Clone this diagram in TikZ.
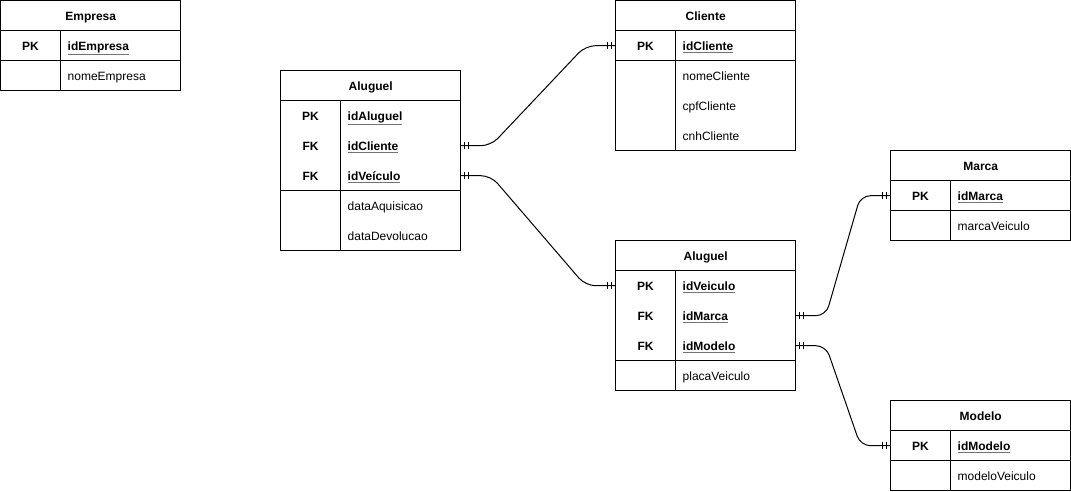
\documentclass[tikz,border=0pt]{standalone}
\usepackage{fontspec}
\setmainfont{Liberation Sans}
% one table row: invisible row box, key label in the left column, field name in the right column
\newcommand\erow[5]{%
  \node[row] (#1) at (#2,#3) {};
  \node[key] at ([xshift=30pt]#1.west) {#4};
  \node[fld] at ([xshift=67pt]#1.west) {#5};}
% table header row
\newcommand\ehead[4]{%
  \node[row] (#1) at (#2,#3) {};
  \node[hdr] at (#1.center) {#4};}
% key field name: bold with a grey underline
\newcommand\keyname[1]{\textbf{\makebox[0pt][l]{\color{black!55}\underline{\phantom{#1}}}#1}}
% "exactly one" marker: two bars near a connector end
\newcommand\mandone[2]{%
  \draw[bar] ([xshift=#2*4pt]#1) ++(0,-3.5) -- ++(0,7);
  \draw[bar] ([xshift=#2*8pt]#1) ++(0,-3.5) -- ++(0,7);}
\begin{document}
\begin{tikzpicture}[x=1pt,y=-1pt,
  tbl/.style={draw, line width=1pt},
  txt/.style={font=\fontsize{12}{14}\selectfont, inner sep=0, text height=8.8pt, text depth=2.4pt, yshift=-1.5pt},
  hdr/.style={txt, font=\fontsize{12}{14}\selectfont\bfseries},
  key/.style={txt, font=\fontsize{12}{14}\selectfont\bfseries},
  fld/.style={txt, anchor=west},
  row/.style={minimum width=180pt, minimum height=30pt, inner sep=0, anchor=north west},
  rel/.style={line width=1pt, rounded corners=10pt},
  bar/.style={line width=1pt}]
\useasboundingbox (-0.5,-0.5) rectangle (1070.5,491.5);

% Empresa
\draw[tbl] (0,0) rectangle (180,90) (0,30) -- (180,30) (0,60) -- (180,60) (60,30) -- (60,90);
\ehead{em-h}{0}{0}{Empresa}
\erow{em-id}{0}{30}{PK}{\keyname{idEmpresa}}
\erow{em-nome}{0}{60}{}{nomeEmpresa}

% Aluguel (left)
\draw[tbl] (280,70) rectangle (460,250) (280,100) -- (460,100) (280,190) -- (460,190) (340,100) -- (340,250);
\ehead{a1-h}{280}{70}{Aluguel}
\erow{a1-id}{280}{100}{PK}{\keyname{idAluguel}}
\erow{a1-cli}{280}{130}{FK}{\keyname{idCliente}}
\erow{a1-vei}{280}{160}{FK}{\keyname{idVeículo}}
\erow{a1-aq}{280}{190}{}{dataAquisicao}
\erow{a1-dev}{280}{220}{}{dataDevolucao}

% Cliente
\draw[tbl] (615,0) rectangle (795,150) (615,30) -- (795,30) (615,60) -- (795,60) (675,30) -- (675,150);
\ehead{cl-h}{615}{0}{Cliente}
\erow{cl-id}{615}{30}{PK}{\keyname{idCliente}}
\erow{cl-nome}{615}{60}{}{nomeCliente}
\erow{cl-cpf}{615}{90}{}{cpfCliente}
\erow{cl-cnh}{615}{120}{}{cnhCliente}

% Marca
\draw[tbl] (890,150) rectangle (1070,240) (890,180) -- (1070,180) (890,210) -- (1070,210) (950,180) -- (950,240);
\ehead{ma-h}{890}{150}{Marca}
\erow{ma-id}{890}{180}{PK}{\keyname{idMarca}}
\erow{ma-vei}{890}{210}{}{marcaVeiculo}

% Aluguel (right)
\draw[tbl] (615,240) rectangle (795,390) (615,270) -- (795,270) (615,360) -- (795,360) (675,270) -- (675,390);
\ehead{a2-h}{615}{240}{Aluguel}
\erow{a2-id}{615}{270}{PK}{\keyname{idVeiculo}}
\erow{a2-mar}{615}{300}{FK}{\keyname{idMarca}}
\erow{a2-mod}{615}{330}{FK}{\keyname{idModelo}}
\erow{a2-pl}{615}{360}{}{placaVeiculo}

% Modelo
\draw[tbl] (890,400) rectangle (1070,490) (890,430) -- (1070,430) (890,460) -- (1070,460) (950,430) -- (950,490);
\ehead{mo-h}{890}{400}{Modelo}
\erow{mo-id}{890}{430}{PK}{\keyname{idModelo}}
\erow{mo-vei}{890}{460}{}{modeloVeiculo}

% relationships
\draw[rel] (a1-cli.east) -- ++(30,0) -- ([xshift=-30pt]cl-id.west) -- (cl-id.west);
\mandone{a1-cli.east}{1}
\mandone{cl-id.west}{-1}

\draw[rel] (a1-vei.east) -- ++(30,0) -- ([xshift=-30pt]a2-id.west) -- (a2-id.west);
\mandone{a1-vei.east}{1}
\mandone{a2-id.west}{-1}

\draw[rel] (a2-mar.east) -- ++(30,0) -- ([xshift=-30pt]ma-id.west) -- (ma-id.west);
\mandone{a2-mar.east}{1}
\mandone{ma-id.west}{-1}

\draw[rel] (a2-mod.east) -- ++(30,0) -- ([xshift=-30pt]mo-id.west) -- (mo-id.west);
\mandone{a2-mod.east}{1}
\mandone{mo-id.west}{-1}
\end{tikzpicture}
\end{document}
